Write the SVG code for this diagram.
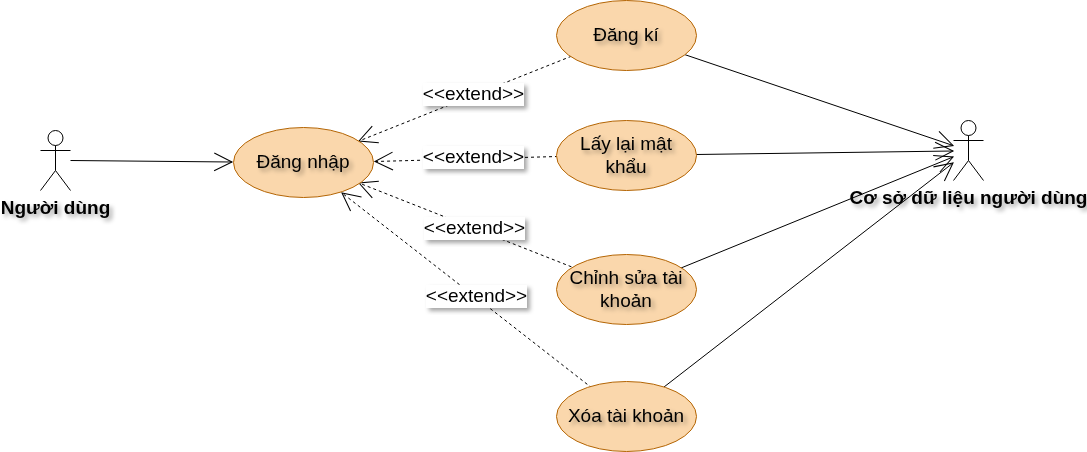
<svg xmlns="http://www.w3.org/2000/svg" width="1087" height="452" viewBox="0 0 1087 452">
<defs>
<filter id="sh" x="-20%" y="-30%" width="140%" height="160%">
<feGaussianBlur in="SourceAlpha" stdDeviation="2" result="b"/>
<feOffset in="b" dx="3" dy="3" result="o"/>
<feFlood flood-color="#000" flood-opacity="0.35"/>
<feComposite in2="o" operator="in" result="s"/>
<feMerge><feMergeNode in="s"/><feMergeNode in="SourceGraphic"/></feMerge>
</filter>
<marker id="open" markerUnits="userSpaceOnUse" markerWidth="22" markerHeight="22" viewBox="-19 -10 21 20" refX="0" refY="0" orient="auto"><path d="M-17,-8.5 L0,0 L-17,8.5" fill="none" stroke="#000" stroke-width="1"/></marker>
<style>
text{font-family:"Liberation Sans",Arial,sans-serif;font-size:19px;fill:#000;text-anchor:middle}
.uc{fill:#fad7ac;stroke:#b46504;stroke-width:1}
.lbl{font-weight:bold}
.actor{fill:#fff;stroke:#000;stroke-width:1}
.assoc{fill:none;stroke:#000;stroke-width:1;marker-end:url(#open)}
.ext{fill:none;stroke:#000;stroke-width:1;stroke-dasharray:3 3;marker-end:url(#open)}
.bg{fill:#fff}
.t{filter:url(#sh)}
</style>
</defs>
<rect width="1087" height="452" fill="#fff"/>
<g id="connectors">
<path class="assoc" d="M70.5,160.5 L232,162"/>
<path class="ext" d="M577,54 L359,141"/>
<path class="ext" d="M558,156.5 L375,161.5"/>
<path class="ext" d="M577,269 L359,183"/>
<path class="ext" d="M592,388 L342,193"/>
<path class="assoc" d="M683,54 L953,145.5"/>
<path class="assoc" d="M696,154.5 L953,151"/>
<path class="assoc" d="M681,268 L953,157"/>
<path class="assoc" d="M664,387 L953,163"/>
<g class="t"><rect class="bg" x="423" y="83" width="101" height="23"/><text x="473.5" y="100">&lt;&lt;extend&gt;&gt;</text></g>
<g class="t"><rect class="bg" x="423" y="146" width="101" height="23"/><text x="473.5" y="163">&lt;&lt;extend&gt;&gt;</text></g>
<g class="t"><rect class="bg" x="424" y="217" width="101" height="23"/><text x="474.5" y="234">&lt;&lt;extend&gt;&gt;</text></g>
<g class="t"><rect class="bg" x="426" y="285" width="101" height="23"/><text x="476.5" y="302">&lt;&lt;extend&gt;&gt;</text></g>
</g>
<g id="actor-nguoi-dung">
<g class="actor"><circle cx="55.5" cy="138" r="7.5"/><path d="M55.5,145.5V170.5M40.5,150.5H70.5M55.5,170.5L40.5,190.5M55.5,170.5L70.5,190.5" fill="none"/></g>
<text class="lbl t" x="55.5" y="214">Người dùng</text>
</g>
<g id="actor-csdl">
<g class="actor"><circle cx="968.5" cy="128" r="7.5"/><path d="M968.5,135.5V160.5M953.5,140.5H983.5M968.5,160.5L953.5,180.5M968.5,160.5L983.5,180.5" fill="none"/></g>
<text class="lbl t" x="968.5" y="204">Cơ sở dữ liệu người dùng</text>
</g>
<g id="uc-dang-nhap"><ellipse class="uc" cx="303.5" cy="162.5" rx="70" ry="35"/><text class="t" x="303" y="168">Đăng nhập</text></g>
<g id="uc-dang-ki"><ellipse class="uc" cx="626.5" cy="35.5" rx="70" ry="35"/><text class="t" x="626" y="41">Đăng kí</text></g>
<g id="uc-lay-lai"><ellipse class="uc" cx="626.5" cy="155.5" rx="70" ry="35"/><text class="t" x="626" y="150">Lấy lại mật</text><text class="t" x="626" y="173">khẩu</text></g>
<g id="uc-chinh-sua"><ellipse class="uc" cx="626.5" cy="289.5" rx="70" ry="35"/><text class="t" x="626" y="284">Chỉnh sửa tài</text><text class="t" x="626" y="307">khoản</text></g>
<g id="uc-xoa"><ellipse class="uc" cx="626.5" cy="416.5" rx="70" ry="35"/><text class="t" x="626" y="422">Xóa tài khoản</text></g>
</svg>
